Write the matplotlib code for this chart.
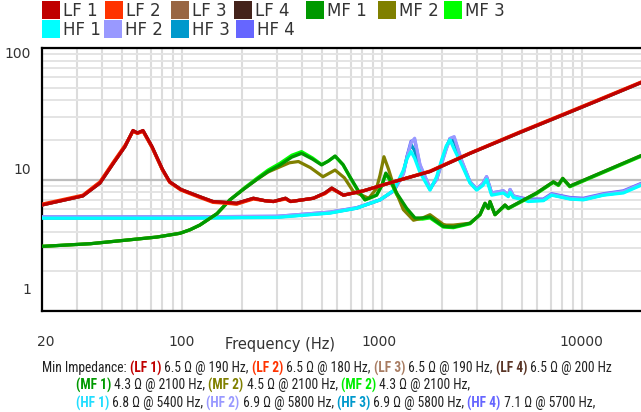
import matplotlib
matplotlib.use("Agg")
import matplotlib.pyplot as plt
from matplotlib import font_manager
from matplotlib.patches import Rectangle
from matplotlib.transforms import ScaledTranslation
from matplotlib.ticker import FixedLocator, NullFormatter, LogLocator

# ---- data (Hz, ohm) ----
lf_freq = [20, 25, 32, 39, 45.5, 52, 57, 60, 64, 71, 80, 87, 99, 123, 143, 165, 188, 228, 260, 287,
           330, 350, 400, 455, 520, 562, 643, 809, 1143, 1742, 2761, 5000, 8000, 12000, 20000]
lf1_z = [6.4, 6.9, 7.5, 9.4, 13.3, 17.8, 23.6, 22.6, 23.6, 17.8, 12.0, 9.6, 8.4, 7.4, 6.8, 6.7, 6.6, 7.2, 6.9, 6.8,
         7.2, 6.8, 7.0, 7.2, 7.9, 8.6, 7.6, 8.2, 9.6, 11.5, 15.8, 23.1, 30.9, 39.8, 55.0]
lf2_z = [6.5, 7.0, 7.6, 9.6, 13.6, 18.2, 23.2, 22.4, 23.2, 17.5, 11.8, 9.5, 8.3, 7.3, 6.7, 6.6, 6.5, 7.1, 6.9, 6.8,
         7.1, 6.8, 7.0, 7.2, 7.8, 8.5, 7.6, 8.2, 9.6, 11.6, 15.9, 23.3, 31.2, 40.2, 55.5]
lf3_z = [6.4, 6.9, 7.5, 9.5, 13.4, 17.9, 23.4, 22.5, 23.4, 17.6, 11.9, 9.6, 8.4, 7.4, 6.8, 6.7, 6.5, 7.2, 6.9, 6.8,
         7.2, 6.8, 7.0, 7.2, 7.9, 8.6, 7.6, 8.2, 9.6, 11.5, 15.8, 23.1, 30.9, 39.9, 55.1]
lf4_z = [6.4, 6.9, 7.5, 9.4, 13.3, 17.8, 23.5, 22.6, 23.5, 17.7, 11.9, 9.6, 8.4, 7.4, 6.8, 6.7, 6.6, 7.2, 6.9, 6.8,
         7.2, 6.8, 7.0, 7.2, 7.9, 8.6, 7.6, 8.2, 9.6, 11.5, 15.8, 23.0, 30.8, 39.7, 54.8]

mf_freq = [20, 35, 57, 75, 98, 110, 123, 150, 174, 205, 237, 270, 310, 355, 397, 450, 500, 540, 584, 640, 693, 760,
           824, 942, 1000, 1047, 1100, 1186, 1331, 1466, 1600, 1742, 2031, 2280, 2761, 3097, 3281, 3409,
           3475, 3681, 4130, 4290, 5943, 7211, 7640, 8030, 8710, 20000]
mf1_z = [3.1, 3.25, 3.5, 3.65, 3.9, 4.15, 4.5, 5.5, 7.0, 8.5, 10.0, 11.5, 12.9, 14.8, 15.8, 14.3, 12.9, 13.8, 15.1,
         13.0, 10.5, 8.3, 7.0, 7.6, 9.0, 11.2, 10.0, 7.9, 6.05, 5.1, 5.1, 5.2, 4.4, 4.35, 4.65, 5.4, 6.6, 6.05,
         6.8, 5.4, 6.4, 6.05, 7.9, 9.6, 9.1, 10.2, 8.9, 15.3]
mf3_z = [3.1, 3.25, 3.5, 3.65, 3.9, 4.15, 4.5, 5.5, 7.0, 8.6, 10.2, 11.8, 13.3, 15.3, 16.3, 14.6, 13.0, 13.8, 15.0,
         12.9, 10.4, 8.2, 7.0, 7.6, 9.0, 11.0, 9.8, 7.7, 5.9, 5.0, 5.0, 5.1, 4.35, 4.3, 4.6, 5.4, 6.5, 6.0,
         6.7, 5.4, 6.3, 6.0, 7.8, 9.5, 9.0, 10.1, 8.8, 15.1]
mf2_freq = [20, 35, 57, 75, 98, 110, 123, 150, 174, 205, 237, 270, 310, 345, 383, 440, 508, 584, 650, 721, 860, 940,
            980, 1025, 1080, 1150, 1282, 1440, 1600, 1742, 2031, 2100, 2280, 2761, 3097, 3281, 3409, 3475,
            3681, 4130, 4290, 5943, 7211, 7640, 8030, 8710, 20000]
mf2_z = [3.1, 3.25, 3.5, 3.65, 3.9, 4.15, 4.5, 5.5, 7.0, 8.5, 10.0, 11.4, 12.5, 13.4, 13.7, 12.3, 10.5, 11.8, 10.3,
         8.1, 7.2, 8.5, 10.8, 14.9, 12.0, 8.8, 5.9, 4.9, 5.1, 5.4, 4.55, 4.5, 4.5, 4.65, 5.4, 6.6, 6.05, 6.8,
         5.4, 6.4, 6.05, 7.9, 9.6, 9.1, 10.2, 8.9, 15.3]

hf_freq = [20, 100, 300, 551, 748, 980, 1150, 1282, 1340, 1400, 1460, 1552, 1742, 1880, 1992, 2100, 2193, 2300,
           2506, 2761, 2980, 3200, 3342, 3540, 4055, 4290, 4380, 4550, 5100, 5400, 6425, 7063, 8730, 10180,
           12860, 16140, 20000]
hf1_z = [5.08, 5.08, 5.15, 5.55, 6.05, 7.0, 8.3, 11.8, 14.5, 16.3, 14.5, 11.3, 8.3, 10.5, 14.1, 18.0, 20.0, 17.0,
         13.0, 9.4, 8.3, 9.0, 10.0, 7.6, 7.9, 7.4, 8.0, 7.3, 7.0, 6.8, 6.9, 7.6, 7.1, 7.0, 7.6, 7.9, 9.1]
hf2_z = [5.2, 5.2, 5.25, 5.65, 6.1, 7.0, 8.2, 11.0, 15.0, 19.0, 20.6, 13.0, 8.6, 10.0, 13.2, 17.0, 20.5, 21.2,
         14.0, 9.6, 8.5, 9.3, 10.5, 7.9, 8.2, 7.6, 8.4, 7.5, 7.1, 6.95, 7.0, 7.7, 7.2, 7.1, 7.7, 8.1, 9.3]
hf3_z = [5.1, 5.1, 5.18, 5.58, 6.05, 7.0, 8.25, 11.4, 15.0, 18.5, 16.5, 12.0, 8.4, 10.2, 13.7, 17.5, 20.3, 19.5,
         13.5, 9.5, 8.4, 9.2, 10.3, 7.8, 8.0, 7.5, 8.2, 7.4, 7.05, 6.9, 6.95, 7.65, 7.15, 7.05, 7.65, 8.0, 9.2]
hf4_z = [5.2, 5.2, 5.25, 5.65, 6.1, 7.0, 8.2, 11.1, 15.2, 19.5, 20.0, 12.8, 8.6, 10.0, 13.3, 17.2, 20.5, 20.8,
         13.9, 9.6, 8.5, 9.3, 10.5, 7.9, 8.2, 7.6, 8.4, 7.5, 7.2, 7.1, 7.1, 7.8, 7.3, 7.2, 7.8, 8.2, 9.4]

names = ["LF 1", "LF 2", "LF 3", "LF 4", "MF 1", "MF 2", "MF 3", "HF 1", "HF 2", "HF 3", "HF 4"]
colors = ["#c00000", "#ff3300", "#996644", "#44231b", "#009900", "#808000", "#00ff00",
          "#00ffff", "#9999ff", "#0099cc", "#6666ff"]
freqs = [lf_freq] * 4 + [mf_freq, mf2_freq, mf_freq] + [hf_freq] * 4
imps = [lf1_z, lf2_z, lf3_z, lf4_z, mf1_z, mf2_z, mf3_z, hf1_z, hf2_z, hf3_z, hf4_z]

x_ticks = [20, 100, 1000, 10000]
y_ticks = [1, 10, 100]

min_lines = [
    [("Min Impedance: ", "#222222", False), ("(LF 1)", colors[0], True), (" 6.5 Ω @ 190 Hz, ", "#222222", False),
     ("(LF 2)", colors[1], True), (" 6.5 Ω @ 180 Hz, ", "#222222", False),
     ("(LF 3)", "#a87c62", True), (" 6.5 Ω @ 190 Hz, ", "#222222", False),
     ("(LF 4)", "#5a3526", True), (" 6.5 Ω @ 200 Hz", "#222222", False)],
    [("(MF 1)", colors[4], True), (" 4.3 Ω @ 2100 Hz, ", "#222222", False),
     ("(MF 2)", colors[5], True), (" 4.5 Ω @ 2100 Hz, ", "#222222", False),
     ("(MF 2)", "#00ee00", True), (" 4.3 Ω @ 2100 Hz,", "#222222", False)],
    [("(HF 1)", "#22ddff", True), (" 6.8 Ω @ 5400 Hz, ", "#222222", False),
     ("(HF 2)", colors[8], True), (" 6.9 Ω @ 5800 Hz, ", "#222222", False),
     ("(HF 3)", colors[9], True), (" 6.9 Ω @ 5800 Hz, ", "#222222", False),
     ("(HF 4)", colors[10], True), (" 7.1 Ω @ 5700 Hz,", "#222222", False)],
]

W, H = 641, 412
fig = plt.figure(figsize=(W / 100, H / 100), dpi=100)
ax = fig.add_axes([42 / W, 1 - 311 / H, 600 / W, 263 / H])
ax.set_xscale("log")
ax.set_yscale("log")
ax.set_xlim(20, 20000)
ax.set_ylim(1, 100)

for i, (f, z, c) in enumerate(zip(freqs, imps, colors)):
    ax.plot(f, z, color=c, lw=2.3, zorder=30 - i, solid_joinstyle="round", solid_capstyle="round")

# grid
ax.xaxis.set_minor_locator(LogLocator(base=10, subs=range(2, 10)))
ax.yaxis.set_minor_locator(LogLocator(base=10, subs=range(2, 10)))
ax.xaxis.set_minor_formatter(NullFormatter())
ax.yaxis.set_minor_formatter(NullFormatter())
ax.grid(which="both", axis="x", color="#dcdcdc", lw=1.5, zorder=0)
ax.grid(which="minor", axis="y", color="#e4e4e4", lw=1.4, zorder=0)
ax.grid(which="major", axis="y", color="#bdbdbd", lw=1.6, zorder=0)
ax.set_axisbelow(True)

ax.xaxis.set_major_locator(FixedLocator(x_ticks))
ax.yaxis.set_major_locator(FixedLocator(y_ticks))
ax.set_xticklabels([str(t) for t in x_ticks])
ax.set_yticklabels([str(t) for t in y_ticks])
ax.tick_params(which="both", length=0, labelsize=10, colors="#333333")
ax.tick_params(axis="x", pad=17)
ax.tick_params(axis="y", pad=8)

# label offsets as in the reference
for lab, dy in zip(ax.get_yticklabels(), [22, 11, -4]):
    lab.set_transform(lab.get_transform() + ScaledTranslation(0, dy / 100, fig.dpi_scale_trans))
for lab, dx in zip(ax.get_xticklabels(), [4, 0, -3, 0]):
    lab.set_transform(lab.get_transform() + ScaledTranslation(dx / 100, 0, fig.dpi_scale_trans))

for s in ["left", "bottom", "top"]:
    ax.spines[s].set_color("black")
    ax.spines[s].set_linewidth(1.6)
ax.spines["right"].set_visible(False)

fig.text(280 / W, 1 - 345 / H, "Frequency (Hz)", ha="center", va="center", fontsize=10.5, color="#333333")

# legend
leg_pos = [(42, 1), (105, 1), (171, 1), (234, 1), (306, 1), (378, 1), (444, 1),
           (42, 20), (104, 20), (171, 20), (236, 20)]
for (lx, ly), name, c in zip(leg_pos, names, colors):
    fig.add_artist(Rectangle((lx / W, 1 - (ly + 18) / H), 18 / W, 18 / H, transform=fig.transFigure,
                             facecolor=c, edgecolor="none"))
    fig.text((lx + 21) / W, 1 - (ly + 10) / H, name, ha="left", va="center", fontsize=12, color="#333333")

# caption with min impedance, pick a narrow font if there is one
avail = {(f.name, f.stretch) for f in font_manager.fontManager.ttflist}
cap_font, cap_stretch = "DejaVu Sans", "normal"
for fam in ["Liberation Sans Narrow", "Roboto Condensed", "Open Sans Condensed"]:
    if any(n == fam for n, _ in avail):
        cap_font = fam
        break
else:
    if ("DejaVu Sans", "condensed") in avail:
        cap_stretch = "condensed"

renderer = fig.canvas.get_renderer()


def run_width(runs, size):
    total = 0
    for s, c, b in runs:
        t = fig.text(0, 0, s, fontsize=size, fontweight="bold" if b else "normal",
                     family=cap_font, fontstretch=cap_stretch)
        total += t.get_window_extent(renderer).width
        t.remove()
    return total


cap_size = 9.5 * 573 / run_width(min_lines[0], 9.5)
for runs, x0, y0 in zip(min_lines, [42, 76, 76], [368, 385, 403]):
    x = x0
    for s, c, b in runs:
        t = fig.text(x / W, 1 - y0 / H, s, ha="left", va="center", color=c, fontsize=cap_size,
                     fontweight="bold" if b else "normal", family=cap_font, fontstretch=cap_stretch)
        x += t.get_window_extent(renderer).width

fig.savefig("out.png", dpi=100)
